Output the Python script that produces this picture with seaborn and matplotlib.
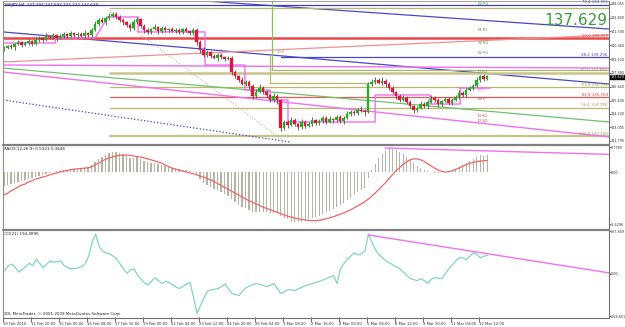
import numpy as np
import pandas as pd
import matplotlib
matplotlib.use("Agg")
import matplotlib.pyplot as plt
from matplotlib.lines import Line2D
from matplotlib.transforms import blended_transform_factory
import seaborn as sns

# ---------------- data ----------------
first_open = 140.00
closes = [140.11, 140.29, 140.20, 140.47, 140.65, 140.38, 140.56, 140.74, 140.47,
          140.83, 141.01, 140.83, 141.19, 141.10, 141.28, 141.01, 141.19,
          141.37, 141.19, 141.46, 141.28, 141.37, 141.19, 141.46, 141.28,
          141.73, 142.26, 142.62, 142.44, 142.80, 142.98,
          143.16, 142.89, 142.62, 142.44, 142.17, 141.90,
          142.44, 142.71, 142.08, 141.73,
          141.55, 141.81, 141.99, 141.64, 141.90, 141.73, 141.81, 141.64,
          141.73, 141.55, 141.81, 141.64, 141.46, 141.73,
          140.65, 139.93, 139.49, 139.76,
          139.40, 139.22, 139.49, 139.31, 139.13, 139.22,
          137.97, 137.61, 137.25, 136.89, 137.07, 136.71,
          135.82, 136.18, 136.53,
          136.18, 135.91, 135.46, 135.82, 135.46,
          132.95,
          133.49, 133.22, 133.67, 133.31, 133.04, 133.49, 133.13, 133.31, 133.67, 133.40, 133.58,
          133.85, 133.49, 133.76, 133.67, 133.94, 133.58, 133.85,
          134.21, 134.39, 134.30, 134.56, 134.47, 134.39,
          136.89,
          137.07, 137.25, 136.98, 137.16, 136.89,
          136.53, 136.18, 135.82, 135.46, 135.64, 135.28,
          134.92, 134.56, 134.74, 135.10, 134.92,
          135.28, 135.64, 135.46, 135.10, 135.37, 135.55, 135.19, 135.46,
          135.73, 136.09, 135.91, 136.35, 136.53, 136.71,
          137.25, 137.61, 137.30, 137.63]
upper_wick = [.15, .10, .20, .12, .18, .10, .22, .15, .12,
              .20, .15, .10, .25, .12, .18, .10, .20,
              .15, .12, .20, .10, .18, .15, .22, .12,
              .20, .25, .15, .30, .18, .25,
              .20, .15, .22, .18, .12, .20,
              .30, .15, .10, .20,
              .18, .12, .25, .10, .15, .20, .12, .18,
              .15, .20, .10, .18, .12, .15,
              .20, .15, .25, .18,
              .12, .20, .15, .18, .10, .22,
              .15, .20, .12, .30, .18, .15,
              .20, .25, .35,
              .15, .20, .12, .25, .18,
              .10,
              .20, .15, .25, .18, .12, .30, .15, .20, .25, .12, .18,
              .20, .15, .25, .10, .18, .22, .15,
              .25, .18, .20, .15, .35, .20,
              .15,
              .30, .25, .20, .35, .18,
              .15, .20, .12, .18, .25, .15,
              .20, .12, .18, .25, .15,
              .20, .30, .15, .18, .12, .22, .20, .15,
              .18, .25, .15, .20, .22, .18,
              .25, .10, .20, .06]
lower_wick = [.20, .12, .15, .25, .10, .18, .12, .20, .15,
              .12, .20, .18, .10, .22, .15, .25, .12,
              .18, .20, .10, .15, .25, .12, .18, .20,
              .15, .10, .20, .12, .25, .15,
              .12, .20, .15, .25, .18, .30,
              .15, .22, .18, .25,
              .20, .15, .12, .25, .18, .15, .20, .12,
              .18, .15, .22, .12, .20, .15,
              .25, .30, .20, .15,
              .18, .12, .25, .15, .20, .12,
              .25, .15, .20, .12, .18, .25,
              .30, .15, .12,
              .20, .25, .15, .18, .40,
              .25,
              .15, .30, .12, .20, .25, .15, .18, .12, .20, .15, .22,
              .15, .20, .12, .25, .18, .15, .30,
              .12, .20, .15, .18, .12, .40,
              .10,
              .15, .20, .12, .18, .25,
              .20, .15, .25, .18, .12, .20,
              .15, .25, .18, .12, .20,
              .15, .12, .20, .25, .18, .12, .15, .20,
              .12, .18, .15, .20, .12, .15,
              .10, .15, .12, .08]

macd_main = [-0.44, -0.41, -0.38, -0.34, -0.31, -0.28, -0.25, -0.22, -0.19,
             -0.16, -0.13, -0.09, -0.06, -0.03, 0.00, 0.03, 0.03,
             0.06, 0.06, 0.09, 0.09, 0.09, 0.13, 0.13, 0.16,
             0.22, 0.31, 0.41, 0.47, 0.53, 0.59,
             0.63, 0.63, 0.59, 0.56, 0.50, 0.44,
             0.44, 0.47, 0.41, 0.34,
             0.31, 0.28, 0.28, 0.25, 0.22, 0.19, 0.16, 0.13,
             0.13, 0.09, 0.06, 0.06, 0.03, 0.00,
             -0.09, -0.22, -0.34, -0.41,
             -0.47, -0.53, -0.56, -0.63, -0.69, -0.75,
             -0.84, -0.94, -1.03, -1.09, -1.13, -1.19,
             -1.25, -1.25, -1.25,
             -1.25, -1.25, -1.28, -1.28, -1.28,
             -1.38,
             -1.44, -1.47, -1.53, -1.55, -1.55, -1.55, -1.52, -1.47, -1.44, -1.41, -1.38,
             -1.31, -1.25, -1.22, -1.16, -1.09, -1.03, -0.97,
             -0.88, -0.81, -0.72, -0.63, -0.56, -0.50,
             -0.19,
             0.06, 0.25, 0.44, 0.56, 0.66,
             0.72, 0.72, 0.69, 0.63, 0.56, 0.47,
             0.38, 0.28, 0.19, 0.13, 0.06,
             0.03, 0.00, -0.03, -0.03, 0.00, 0.00, 0.03, 0.06,
             0.10, 0.16, 0.22, 0.28, 0.34, 0.42,
             0.48, 0.52, 0.50, 0.53]
macd_signal = [-0.72, -0.66, -0.59, -0.53, -0.47, -0.41, -0.38, -0.31, -0.28,
               -0.22, -0.19, -0.16, -0.13, -0.09, -0.06, -0.03, 0.00,
               0.03, 0.05, 0.07, 0.09, 0.10, 0.11, 0.12, 0.13,
               0.16, 0.22, 0.28, 0.34, 0.40, 0.44,
               0.47, 0.50, 0.52, 0.53, 0.53, 0.52,
               0.50, 0.48, 0.47, 0.44,
               0.41, 0.38, 0.35, 0.31, 0.28, 0.22, 0.17, 0.12,
               0.09, 0.06, 0.03, 0.00, -0.03, -0.05,
               -0.09, -0.13, -0.16, -0.20,
               -0.25, -0.30, -0.36, -0.42, -0.48, -0.54,
               -0.60, -0.66, -0.72, -0.78, -0.84, -0.90,
               -0.95, -1.00, -1.05,
               -1.10, -1.14, -1.18, -1.22, -1.26,
               -1.30,
               -1.34, -1.38, -1.41, -1.44, -1.46, -1.48, -1.50, -1.51, -1.52, -1.52, -1.51,
               -1.49, -1.46, -1.43, -1.40, -1.36, -1.32, -1.28,
               -1.23, -1.18, -1.12, -1.06, -1.00, -0.93,
               -0.85,
               -0.76, -0.66, -0.55, -0.44, -0.33,
               -0.20, -0.08, 0.04, 0.14, 0.24, 0.32,
               0.38, 0.41, 0.41, 0.38, 0.33,
               0.26, 0.19, 0.12, 0.06, 0.02, 0.00, 0.01, 0.04,
               0.08, 0.13, 0.18, 0.23, 0.27, 0.30,
               0.32, 0.34, 0.35, 0.36]
cci = [19, 50, 60, 40, 10, 25, 45, 65, 50, 90, 65, 37, 60, 81, 72, 75, 80,
       50, 38, 31, 33, 36, 45, 62, 110, 200, 249, 170, 140, 130, 125, 110,
       93, 60, 30, 2, 25, 30, -10, -35, -60, -70, -45, -25, -45, -62, -48,
       -55, -70, -85, -93, -80, -65, -56, -150, -249, -200, -150, -110, -102,
       -98, -93, -80, -65, -95, -125, -131, -137, -110, -88, -78, -68, -62,
       -68, -75, -81, -72, -62, -95, -125, -112, -100, -103, -106, -95, -85,
       -75, -68, -62, -56, -48, -40, -31, -20, -12, -62, 30, 65, 90, 112,
       131, 118, 125, 143, 249, 200, 150, 120, 100, 81, 68, 55, 42, 31, 10,
       -12, -31, -38, -44, -31, -45, -62, -35, -25, -28, -31, 0, 31, 55, 80,
       100, 100, 87, 110, 131, 120, 100, 110, 115]

date_labels = ["10 Feb 2010", "11 Feb 20:00", "15 Feb 00:00", "16 Feb 08:00",
               "17 Feb 16:00", "19 Feb 00:00", "22 Feb 04:00", "23 Feb 12:00",
               "24 Feb 20:00", "26 Feb 04:00", "1 Mar 08:00", "2 Mar 16:00",
               "4 Mar 00:00", "5 Mar 08:00", "8 Mar 12:00", "9 Mar 20:00",
               "11 Mar 04:00", "12 Mar 12:00"]
label_every = 8

price_ticks = [144.055, 142.840, 141.590, 140.360, 139.120, 137.880,
               136.640, 135.400, 134.230, 133.005, 131.790]
macd_ticks = [0.7789, 0.0, -1.6296]
macd_tick_labels = ["0.7789", "0.00", "-1.6296"]
cci_ticks = [267.849, 0.0, -268.651]
cci_tick_labels = ["267.849", "0.00", "-268.651"]
last_price = 137.629

# drawn objects (bar index / price)
trend_lines = [  # x0, p0, x1, p1, color, lw, ls
    (-0.3, 141.55, 172.8, 136.89, "#4848c8", 0.9, "-"),
    (53.1, 144.41, 172.8, 141.81, "#4848c8", 0.9, "-"),
    (-0.3, 143.97, 172.8, 143.97, "#4040b8", 0.9, "-"),
    (-0.3, 140.97, 172.8, 140.97, "#e84848", 1.8, "-"),
    (-0.3, 138.86, 172.8, 141.28, "#f09090", 0.9, "-"),
    (-0.3, 138.59, 172.8, 138.32, "#f070f0", 1.0, "-"),
    (30.3, 143.69, 172.8, 143.69, "#bdb76b", 0.9, "-"),
    (30.3, 137.88, 172.8, 137.88, "#c8c488", 1.8, "-"),
    (30.3, 136.59, 172.8, 136.59, "#bdb76b", 0.9, "-"),
    (30.3, 135.71, 172.8, 135.71, "#e85a5a", 0.9, "-"),
    (30.3, 134.75, 172.8, 134.75, "#bdb76b", 0.9, "-"),
    (30.3, 132.20, 172.8, 132.20, "#c8c488", 1.6, "-"),
    (79.0, 139.29, 172.8, 139.29, "#4848c8", 0.9, "-"),
    (-0.3, 138.32, 172.8, 133.49, "#70c070", 0.9, "-"),
    (-0.3, 137.97, 172.8, 132.15, "#f070f0", 1.0, "-"),
    (-0.3, 135.46, 81.7, 131.70, "#4040c8", 0.9, ":"),
    (30.3, 143.33, 80.3, 131.70, "#c8b890", 0.8, ":"),
    (76.6, 144.41, 76.6, 138.14, "#8fbc5f", 0.9, "-"),
    (76.6, 138.14, 172.8, 138.14, "#a8b870", 0.9, "-"),
    (76.0, 139.50, 76.0, 136.98, "#bdb76b", 0.9, "-"),
    (76.0, 136.98, 104.0, 136.98, "#bdb76b", 0.9, "-"),
]
step_x = [-0.3, 14.6, 14.6, 26.0, 29.7, 38.3, 38.3, 57.4, 57.4, 68.8, 68.8,
          76.0, 76.0, 81.1, 81.1, 106.0, 106.0, 121.7, 121.7, 130.3, 130.3, 138.9]
step_p = [140.56, 140.56, 141.01, 141.01, 142.89, 142.89, 141.55, 141.55,
          138.59, 138.59, 136.35, 136.35, 135.46, 135.46, 133.49, 133.49,
          135.91, 135.91, 135.10, 135.10, 136.53, 136.53]

fib_labels = [("76.4 143.965", 143.97, "#4040b8"), ("50.0 140.968", 140.97, "#d03030"),
              ("38.2 139.296", 139.29, "#4040b8"), ("50.0 137.880", 137.88, "#9a9a50"),
              ("61.8 136.592", 136.59, "#9a9a50"), ("61.8 135.709", 135.71, "#d03030"),
              ("76.4 134.748", 134.75, "#9a9a50"), ("100.0 132.200", 132.20, "#9a9a50")]
pivot_labels = [("W R3", 144.05, "#40a040"), ("M R1", 141.72, "#40a040"),
                ("W R2", 140.56, "#40a040"), ("W R1", 139.67, "#40a040"),
                ("D R1", 137.97, "#40a040"), ("D P", 136.35, "#e050e0"),
                ("W P", 135.55, "#d03030"), ("D S1", 134.03, "#d03030"),
                ("D S2", 133.58, "#d03030")]

macd_tl = (108.9, 0.75, 172.8, 0.55)
cci_tl = (104.0, 243.0, 172.8, 5.0)

# ---------------- style ----------------
sns.set_theme(style="white")
plt.rcParams["font.family"] = ["DejaVu Sans"]

W, H = 625, 327
fig = plt.figure(figsize=(W / 100, H / 100), dpi=100)
fig.patch.set_facecolor("white")


def box(x0, y0, x1, y1):
    return [x0 / W, 1 - y1 / H, (x1 - x0) / W, (y1 - y0) / H]


ax_p = fig.add_axes(box(3, 2, 609, 143))
ax_m = fig.add_axes(box(3, 146, 609, 228))
ax_c = fig.add_axes(box(3, 231, 609, 317))

n = len(closes)
xs = np.arange(n)
xlim = (-0.3, 172.8)
df = pd.DataFrame({"bar": xs, "close": closes, "macd": macd_main,
                   "signal": macd_signal, "cci": cci})
df["open"] = [first_open] + closes[:-1]
df["high"] = np.maximum(df["open"], df["close"]) + np.array(upper_wick)
df["low"] = np.minimum(df["open"], df["close"]) - np.array(lower_wick)

tick_col = "#303030"
for ax in (ax_p, ax_m, ax_c):
    ax.set_facecolor("white")
    ax.set_xlim(*xlim)
    for s in ax.spines.values():
        s.set_visible(False)
    ax.yaxis.tick_right()
    ax.tick_params(axis="y", labelsize=2.4, colors=tick_col, length=1.2, width=0.5, pad=0.3)
    ax.tick_params(axis="x", bottom=False, labelbottom=False)

# ----- price panel -----
for (x0, p0, x1, p1, c, lw, ls) in trend_lines:
    ax_p.plot([x0, x1], [p0, p1], color=c, lw=lw, ls=ls, zorder=1)
ax_p.plot(step_x, step_p, color="#f070f0", lw=1.0, zorder=1.5)

up = df["close"] >= df["open"]
cols = np.where(up, "#22b022", "#e0143c")
ax_p.vlines(df["bar"], df["low"], df["high"], color="#505050", lw=0.6, zorder=2)
ax_p.bar(df["bar"], (df["close"] - df["open"]).abs().clip(lower=0.03),
         bottom=np.minimum(df["open"], df["close"]), width=0.7,
         color=cols, edgecolor=cols, linewidth=0.2, zorder=3)

ax_p.set_ylim(131.61, 144.23)
ax_p.set_yticks(price_ticks)
ax_p.set_yticklabels([f"{t:.3f}" for t in price_ticks])

for txt, p, c in fib_labels:
    ax_p.text(172.4, p + 0.06, txt, fontsize=2.8, color=c, ha="right", va="bottom", zorder=4)
for txt, p, c in pivot_labels:
    ax_p.text(135.5, p, txt, fontsize=2.8, color=c, ha="left", va="center", zorder=4)
ax_p.text(78.0, 139.6, "23.6", fontsize=2.8, color="#9a9a50", ha="left", va="bottom")

ax_p.text(172.4, 142.55, f"{last_price:.3f}", fontsize=11, color="#3a9a3a",
          ha="right", va="center", zorder=5)
tr = blended_transform_factory(ax_p.transAxes, ax_p.transData)
ax_p.text(1.003, last_price - 0.12, f"{last_price:.3f}", transform=tr, fontsize=2.4,
          color="white", ha="left", va="center",
          bbox=dict(boxstyle="square,pad=0.12", fc="black", ec="black"), zorder=6)
ax_p.text(0.0, 0.995, "GBPJPY,H4  137.297 137.693 137.222 137.629", transform=ax_p.transAxes,
          fontsize=3.0, color="#202020", ha="left", va="top")

# ----- MACD panel -----
ax_m.bar(df["bar"], df["macd"], width=0.35, color="#b4b4a4", linewidth=0, zorder=2)
sns.lineplot(data=df, x="bar", y="signal", ax=ax_m, color="#f06464", lw=0.9, zorder=3)
ax_m.plot([macd_tl[0], macd_tl[2]], [macd_tl[1], macd_tl[3]], color="#f070f0", lw=1.0, zorder=4)
ax_m.set_ylim(-1.75, 0.8125)
ax_m.set_yticks(macd_ticks)
ax_m.set_yticklabels(macd_tick_labels)
ax_m.set_xlabel("")
ax_m.set_ylabel("")
ax_m.set_xlim(*xlim)
ax_m.text(0.0, 0.985, "MACD(12,26,9) 0.5323 0.3646", transform=ax_m.transAxes,
          fontsize=3.0, color="#202020", ha="left", va="top")

# ----- CCI panel -----
sns.lineplot(data=df, x="bar", y="cci", ax=ax_c, color="#80d4c4", lw=0.9, zorder=3)
ax_c.plot([cci_tl[0], cci_tl[2]], [cci_tl[1], cci_tl[3]], color="#f070f0", lw=1.0, zorder=4)
ax_c.set_ylim(-272, 268)
ax_c.set_yticks(cci_ticks)
ax_c.set_yticklabels(cci_tick_labels)
ax_c.set_xlabel("")
ax_c.set_ylabel("")
ax_c.set_xlim(*xlim)
ax_c.text(0.0, 0.985, "CCI(21) 194.4896", transform=ax_c.transAxes,
          fontsize=3.0, color="#202020", ha="left", va="top")
ax_c.text(0.0, 0.015, "ODL MetaTrader, \u00a9 2001-2009 MetaQuotes Software Corp.",
          transform=ax_c.transAxes, fontsize=2.9, color="#202020", ha="left", va="bottom")

tick_pos = [i * label_every - 0.5 for i in range(len(date_labels))]
ax_c.set_xticks(tick_pos)
ax_c.set_xticklabels(date_labels, ha="left")
ax_c.tick_params(axis="x", bottom=True, labelbottom=True, labelsize=2.7, colors=tick_col,
                 length=3.5, width=0.5, pad=0.3, direction="out")

# ----- frame lines -----
def fline(x0, y0, x1, y1, c="#808080", lw=0.8):
    fig.add_artist(Line2D([x0 / W, x1 / W], [1 - y0 / H, 1 - y1 / H],
                          color=c, lw=lw, transform=fig.transFigure))

fline(2.5, 1, 2.5, 317, "#909080", 0.8)
fline(609, 1, 609, 318, "#707070", 0.8)
fline(2.5, 1, 609, 1, "#909090", 0.6)
fline(2.5, 144.5, 609, 144.5, "#808080", 1.6)
fline(2.5, 229.5, 609, 229.5, "#808080", 1.6)
fline(2.5, 317.5, 609, 317.5, "#707070", 0.8)

fig.savefig("out.png", dpi=100, facecolor="white")
